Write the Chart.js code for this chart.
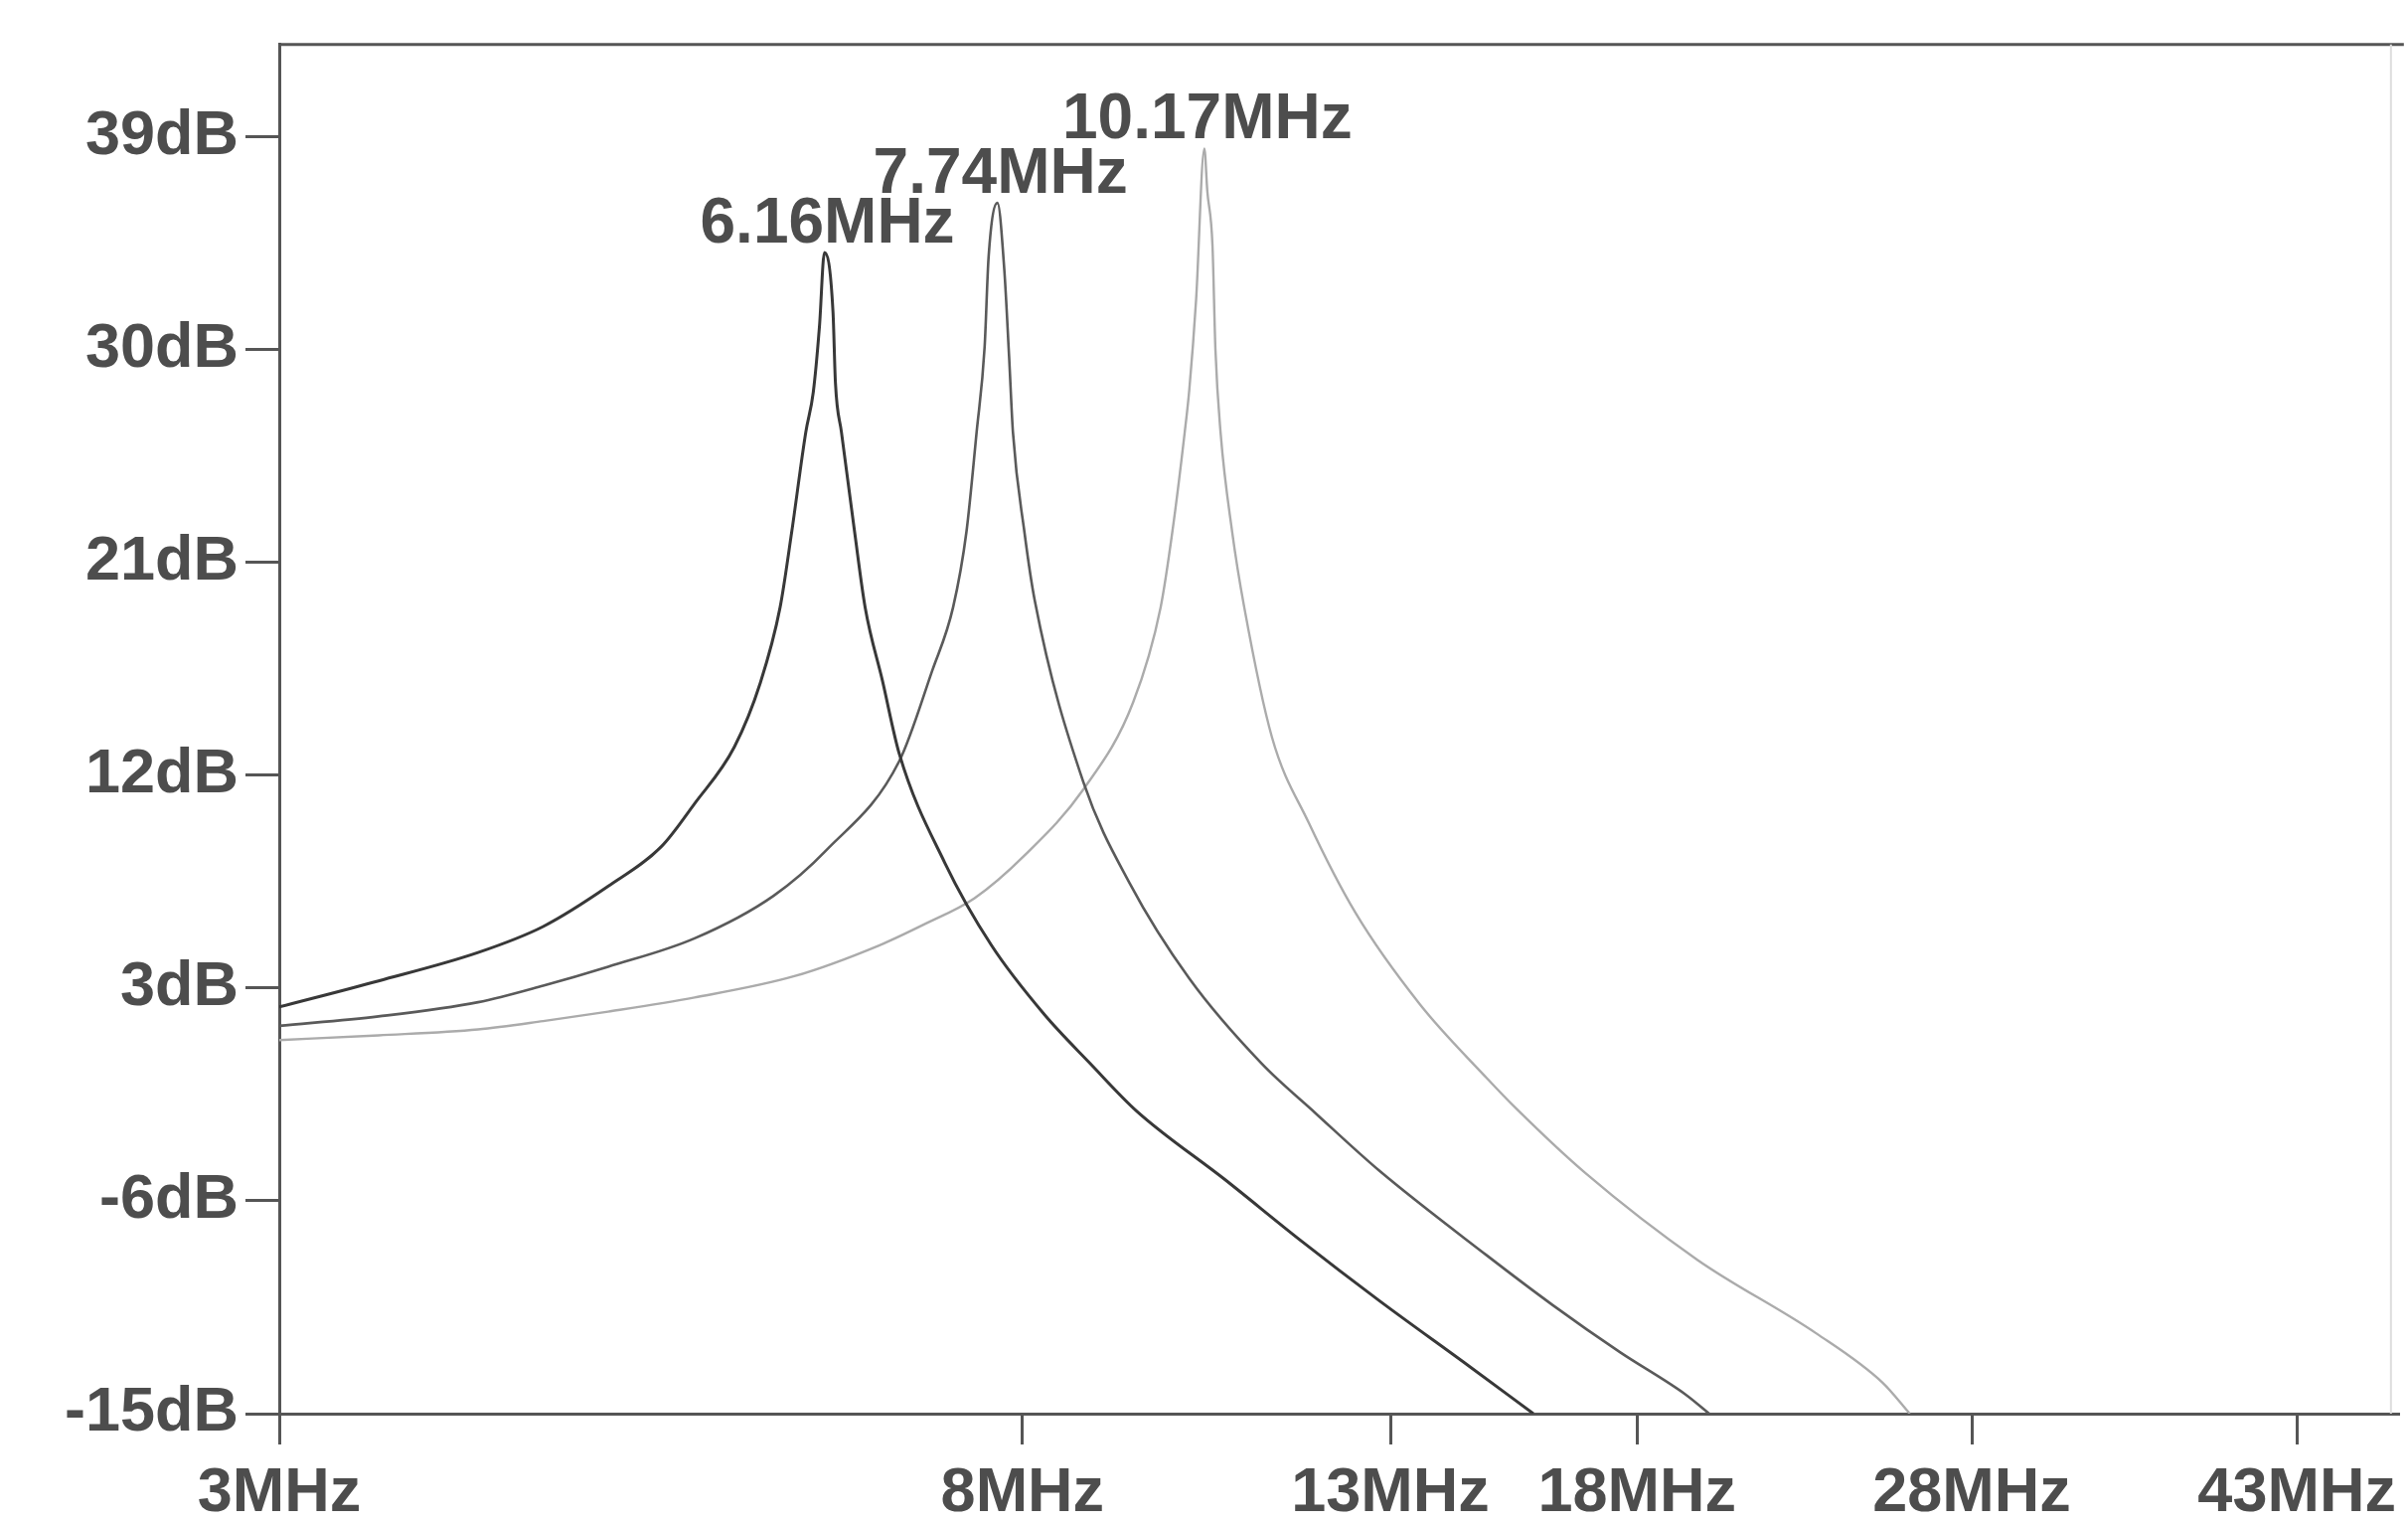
<!DOCTYPE html>
<html>
<head>
<meta charset="utf-8">
<script src="https://cdn.jsdelivr.net/npm/chart.js@4.4.1/dist/chart.umd.min.js"></script>
<style>
  html, body { margin: 0; padding: 0; background: #fff; }
</style>
</head>
<body>
<canvas id="respChart" width="2423" height="1533"></canvas>
<script>
// ================= DATA =================
const xTicks = [3, 8, 13, 18, 28, 43];
const yTicks = [-15, -6, 3, 12, 21, 30, 39];
const peakLabels = ["6.16MHz", "7.74MHz", "10.17MHz"];

// 6.16MHz curve
const freqA = [3.00, 3.42, 3.90, 4.25, 4.63, 4.97, 5.19, 5.47, 5.66, 5.81, 5.90, 6.01, 6.07, 6.12, 6.16,
  6.23, 6.25, 6.30, 6.41, 6.50, 6.65, 6.80, 7.22, 7.68, 8.23, 8.75, 9.30, 10.45, 11.56, 12.8, 14.43, 15.7];
const dbA = [2.2, 3.3, 4.5, 5.6, 7.3, 9.0, 10.8, 13.2, 15.9, 19.1, 22.3, 26.5, 28.2, 31.0, 34.1,
  31.6, 28.6, 26.5, 22.3, 19.1, 16.0, 12.9, 8.3, 4.8, 1.9, -0.2, -2.2, -5.1, -7.7, -10.2, -13.0, -15.0];

// 7.74MHz curve
const freqB = [3.00, 3.42, 3.90, 4.25, 4.63, 5.19, 5.76, 6.17, 6.80, 7.10, 7.30, 7.43, 7.53, 7.61, 7.65, 7.74,
  7.81, 7.86, 7.90, 8.02, 8.13, 8.67, 9.22, 9.97, 10.97, 11.78, 12.8, 14.76, 16.1, 17.6, 19.2, 19.8];
const dbB = [1.4, 1.8, 2.4, 3.1, 3.9, 5.1, 6.9, 8.8, 12.6, 16.4, 19.1, 22.3, 26.5, 30.1, 33.9, 36.2,
  33.4, 29.7, 26.5, 22.3, 19.4, 11.7, 7.4, 3.4, -0.2, -2.3, -4.7, -8.3, -10.4, -12.4, -14.2, -15.0];

// 10.17MHz curve
const freqC = [3.00, 3.42, 3.90, 4.25, 4.63, 5.19, 5.92, 6.62, 7.03, 7.51, 8.02, 8.67, 9.26, 9.60, 9.75, 9.91,
  9.97, 10.06, 10.17, 10.21, 10.28, 10.32, 10.39, 10.55, 10.72, 11.12, 11.67, 12.41, 13.52, 14.76, 15.35,
  16.8, 19.5, 22.8, 24.9, 25.8];
const dbC = [0.8, 1.0, 1.25, 1.6, 2.0, 2.6, 3.5, 4.8, 5.7, 6.8, 8.6, 11.4, 15.1, 19.1, 22.3, 26.5,
  28.3, 32.1, 38.5, 36.7, 34.4, 30.0, 26.5, 22.3, 19.1, 13.6, 10.0, 6.2, 2.3, -0.8, -2.1,
  -4.8, -8.5, -11.6, -13.7, -15.0];

// ================= HELPERS =================
const toPoints = (fs, ds) => fs.map((f, i) => ({ x: f, y: ds[i] }));
const labelFont = { family: "'Liberation Sans', Arial, sans-serif", size: 63, weight: "bold" };
const inkColor = "#4d4d4d";

// frame line on top of the plot (chart.js only draws left/bottom borders)
const framePlugin = {
  id: "frame",
  beforeDatasetsDraw(chart) {
    const { ctx, chartArea } = chart;
    ctx.save();
    ctx.strokeStyle = "#555";
    ctx.lineWidth = 3;
    ctx.beginPath();
    ctx.moveTo(chartArea.left, chartArea.top);
    ctx.lineTo(chartArea.right + 5, chartArea.top);
    ctx.stroke();
    ctx.strokeStyle = "#ddd";
    ctx.lineWidth = 2;
    ctx.beginPath();
    ctx.moveTo(chartArea.right - 8, chartArea.top);
    ctx.lineTo(chartArea.right - 8, chartArea.bottom);
    ctx.stroke();
    ctx.restore();
  }
};

// resonance frequency text above each peak
const peakLabelPlugin = {
  id: "peakLabels",
  afterDatasetsDraw(chart) {
    const { ctx, scales } = chart;
    ctx.save();
    ctx.font = "bold 64px 'Liberation Sans', Arial, sans-serif";
    ctx.fillStyle = inkColor;
    ctx.textAlign = "center";
    ctx.textBaseline = "alphabetic";
    chart.data.datasets.forEach((ds, i) => {
      const top = ds.data.reduce((a, b) => (b.y > a.y ? b : a));
      const px = scales.x.getPixelForValue(top.x);
      const py = scales.y.getPixelForValue(top.y);
      ctx.fillText(peakLabels[i], px + 3, py - 10);
    });
    ctx.restore();
  }
};

// ================= CHART =================
const ctx = document.getElementById("respChart");

const chart = new Chart(ctx, {
  type: "line",
  data: {
    datasets: [
      { data: toPoints(freqA, dbA), borderColor: "#383838", borderWidth: 3 },
      { data: toPoints(freqB, dbB), borderColor: "#5a5a5a", borderWidth: 2.6 },
      { data: toPoints(freqC, dbC), borderColor: "#ababab", borderWidth: 2.4 },
    ],
  },
  options: {
    responsive: false,
    animation: false,
    devicePixelRatio: 1,
    layout: { padding: { top: 43, right: 2, left: 0, bottom: 0 } },
    elements: { point: { radius: 0 }, line: { cubicInterpolationMode: "monotone" } },
    plugins: { legend: { display: false }, tooltip: { enabled: false } },
    scales: {
      x: {
        type: "logarithmic",
        min: 3,
        max: 49.2,
        afterBuildTicks: (axis) => { axis.ticks = xTicks.map((v) => ({ value: v })); },
        afterFit: (axis) => { axis.height = 111; },
        grid: { drawOnChartArea: false, drawTicks: true, tickLength: 31, color: "#555", lineWidth: 3 },
        border: { display: true, color: "#555", width: 3 },
        ticks: {
          callback: (v) => v + "MHz",
          font: labelFont,
          color: inkColor,
          padding: 12,
          autoSkip: false,
          maxRotation: 0,
        },
      },
      y: {
        type: "linear",
        min: -15,
        max: 42.9,
        afterBuildTicks: (axis) => { axis.ticks = yTicks.map((v) => ({ value: v })); },
        afterFit: (axis) => { axis.width = 281; },
        grid: { drawOnChartArea: false, drawTicks: true, tickLength: 34, color: "#555", lineWidth: 3 },
        border: { display: true, color: "#555", width: 3 },
        ticks: {
          callback: (v) => v + "dB",
          font: labelFont,
          color: inkColor,
          padding: 7,
        },
      },
    },
  },
  plugins: [framePlugin, peakLabelPlugin],
});
</script>
</body>
</html>
